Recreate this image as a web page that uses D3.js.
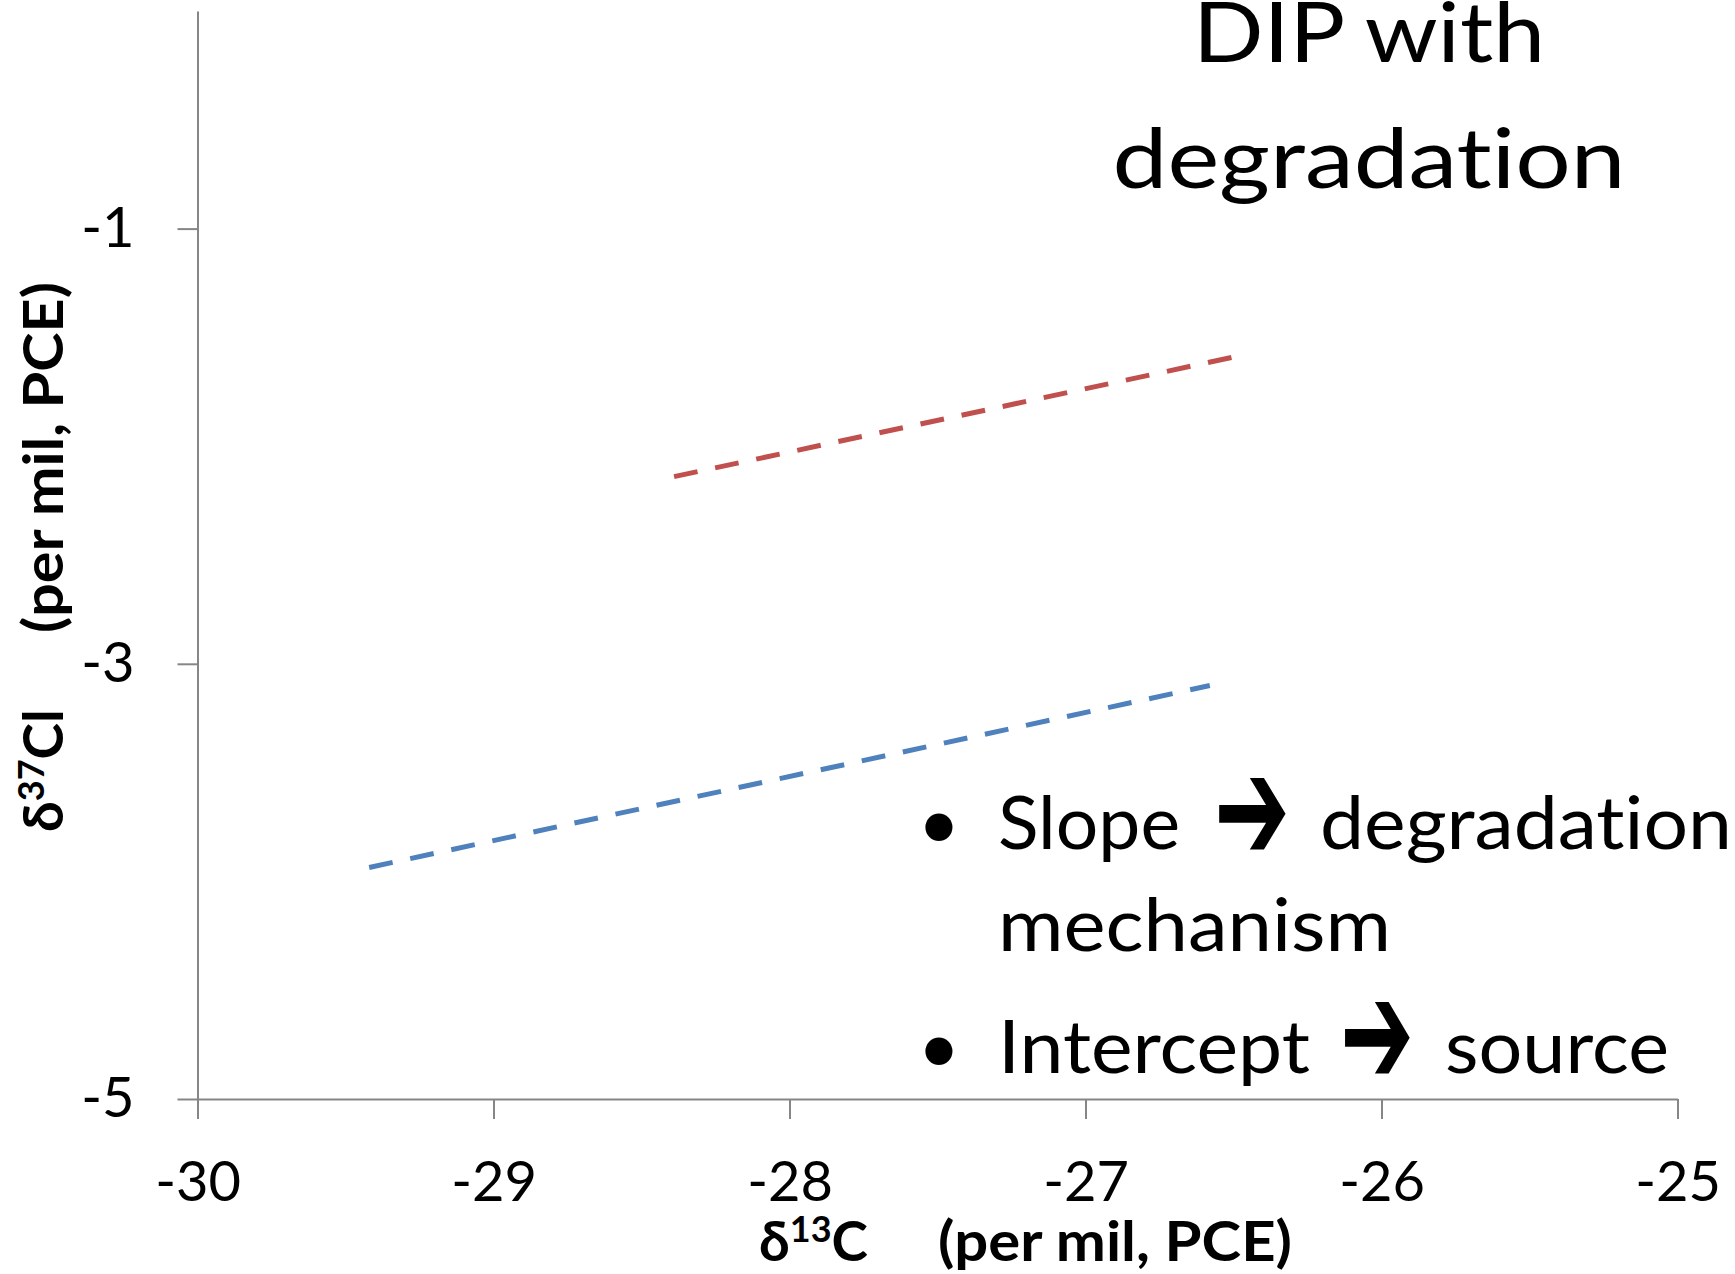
<!DOCTYPE html>
<html lang="en">
<head>
    <meta charset="UTF-8">
    <title>DIP with degradation</title>
    <style>
        body { margin: 0; background: #fff; }
        svg { display: block; font-family: Lato, "Open Sans", sans-serif; font-variant-ligatures: none; }
        .axis path, .axis line { stroke: #868686; stroke-width: 2; }
        .axis text { font-family: Lato, "Open Sans", sans-serif; font-size: 56px; fill: #000; }
        .trend { fill: none; stroke-width: 5; stroke-dasharray: 24 18; }
        .title { font-size: 84px; text-anchor: middle; }
        .bullet { font-size: 73px; }
        .arrow { font-family: "DejaVu Sans", sans-serif; font-size: 150px; font-weight: bold; }
        .axis-title { font-size: 55px; font-weight: bold; }
    </style>
</head>
<body>
    <svg width="1735" height="1274"></svg>
    <script src="https://d3js.org/d3.v7.min.js"></script>
    <script>
        // tick values
        const xTicks = [-30, -29, -28, -27, -26, -25];
        const yTicks = [-1, -3, -5];

        // the two dashed trend lines (delta13C, delta37Cl)
        const redLine = [[-28.39, -2.14], [-26.45, -1.576]];
        const blueLine = [[-29.42, -3.936], [-26.58, -3.10]];

        const svg = d3.select("svg");

        const x = d3.scaleLinear().domain([-30, -25]).range([197.5, 1677.5]);
        const y = d3.scaleLinear().domain([-5, 0]).range([1099, 11]);

        // y axis
        svg.append("g")
            .attr("class", "axis")
            .attr("transform", "translate(" + x(-30) + ",0)")
            .call(d3.axisLeft(y).tickValues(yTicks).tickSize(20).tickSizeOuter(0)
                .tickPadding(43).tickFormat(d => String(d)))
            .attr("font-family", null).attr("font-size", null);

        // x axis
        svg.append("g")
            .attr("class", "axis")
            .attr("transform", "translate(0," + y(-5) + ")")
            .call(d3.axisBottom(x).tickValues(xTicks).tickSize(20).tickSizeOuter(0)
                .tickPadding(42).tickFormat(d => String(d)))
            .attr("font-family", null).attr("font-size", null);

        const line = d3.line().x(d => x(d[0])).y(d => y(d[1]));

        svg.append("path").datum(redLine)
            .attr("class", "trend")
            .attr("stroke", "#C0504D")
            .attr("d", line);

        svg.append("path").datum(blueLine)
            .attr("class", "trend")
            .attr("stroke", "#4F81BD")
            .attr("d", line);

        // title
        svg.append("text").attr("class", "title")
            .attr("x", 1369).attr("y", 62)
            .attr("textLength", 352).attr("lengthAdjust", "spacingAndGlyphs")
            .text("DIP with");
        svg.append("text").attr("class", "title")
            .attr("x", 1369).attr("y", 188)
            .attr("textLength", 513).attr("lengthAdjust", "spacingAndGlyphs")
            .text("degradation");

        // bullet notes
        const notes = [
            {y: 849, dot: true, parts: [["Slope", 998, 182], ["➔", 1214, 76], ["degradation", 1320, 412]]},
            {y: 951, parts: [["mechanism", 998, 393]]},
            {y: 1073, dot: true, parts: [["Intercept", 998, 312], ["➔", 1340, 74], ["source", 1445, 224]]}
        ];
        notes.forEach(n => {
            if (n.dot) {
                svg.append("text").attr("class", "bullet")
                    .attr("x", 939).attr("y", n.y)
                    .attr("text-anchor", "middle")
                    .text("•");
            }
            n.parts.forEach(p => {
                const isArrow = p[0] === "➔";
                svg.append("text")
                    .attr("class", isArrow ? "arrow" : "bullet")
                    .attr("x", p[1]).attr("y", isArrow ? n.y + 12 : n.y)
                    .attr("textLength", p[2]).attr("lengthAdjust", "spacingAndGlyphs")
                    .text(p[0]);
            });
        });

        // x axis title
        const xt = svg.append("text").attr("class", "axis-title")
            .attr("x", 759).attr("y", 1261);
        xt.append("tspan").text("δ");
        xt.append("tspan").attr("font-size", 36).attr("dy", -19).text("13");
        xt.append("tspan").attr("dy", 19).text("C");
        svg.append("text").attr("class", "axis-title")
            .attr("x", 938).attr("y", 1261)
            .attr("textLength", 354).attr("lengthAdjust", "spacingAndGlyphs")
            .text("(per mil, PCE)");

        // y axis title
        const yg = svg.append("g").attr("transform", "translate(63,832) rotate(-90)");
        const yt = yg.append("text").attr("class", "axis-title").attr("x", 0).attr("y", 0);
        yt.append("tspan").text("δ");
        yt.append("tspan").attr("font-size", 36).attr("dy", -19).text("37");
        yt.append("tspan").attr("dy", 19).text("Cl");
        yg.append("text").attr("class", "axis-title")
            .attr("x", 199).attr("y", 0)
            .attr("textLength", 351).attr("lengthAdjust", "spacingAndGlyphs")
            .text("(per mil, PCE)");
    </script>
</body>
</html>
